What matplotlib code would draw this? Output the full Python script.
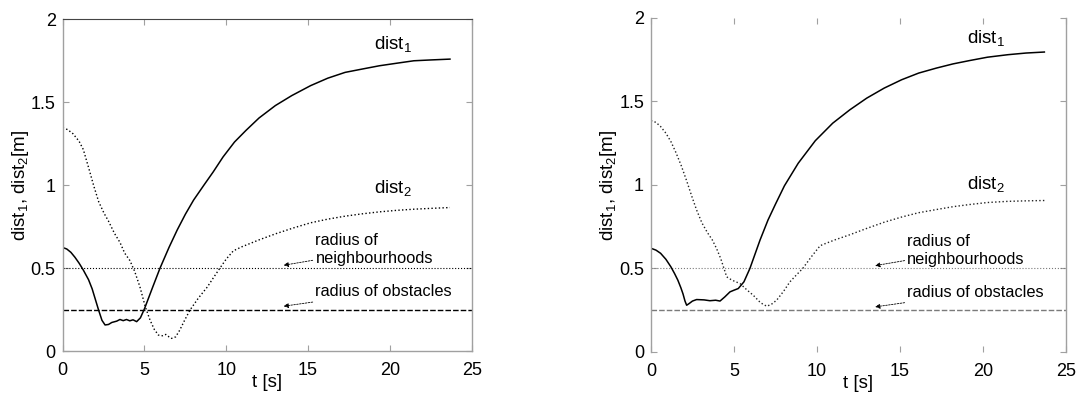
import numpy as np
import matplotlib
matplotlib.use('Agg')
import matplotlib.pyplot as plt

plt.rcParams['font.family'] = ['Liberation Sans', 'DejaVu Sans']
plt.rcParams['mathtext.default'] = 'regular'

# left panel
t_l1 = [0, 0.25, 0.5, 0.75, 1.0, 1.25, 1.58, 1.8, 2.0, 2.2,
        2.4, 2.59, 2.8, 3.0, 3.3, 3.5, 3.7, 3.9, 4.1, 4.3,
        4.52, 4.75, 5.0, 5.5, 5.95, 6.5, 7.0, 7.5, 8.0, 8.63,
        9.2, 9.8, 10.5, 11.2, 12.0, 13.0, 14.0, 15.15, 16.2, 17.26,
        18.3, 19.36, 20.4, 21.46, 22.5, 23.67]
d_l1 = [0.624, 0.615, 0.595, 0.565, 0.53, 0.49, 0.43, 0.375, 0.31, 0.245,
        0.185, 0.157, 0.16, 0.172, 0.18, 0.19, 0.183, 0.19, 0.182, 0.188,
        0.177, 0.2, 0.255, 0.385, 0.5, 0.625, 0.73, 0.825, 0.91, 1.0,
        1.08, 1.17, 1.26, 1.33, 1.405, 1.48, 1.54, 1.60, 1.645, 1.68,
        1.70, 1.72, 1.735, 1.75, 1.755, 1.76]
t_l2 = [0, 0.3, 0.63, 1.0, 1.26, 1.6, 1.9, 2.2, 2.53, 2.79,
        3.16, 3.5, 3.79, 4.11, 4.4, 4.72, 5.05, 5.34, 5.6, 5.85,
        6.1, 6.3, 6.5, 6.65, 6.9, 7.15, 7.45, 7.78, 8.3, 8.84,
        9.2, 9.61, 10.0, 10.43, 10.94, 12.0, 13.05, 14.1, 15.15, 16.2,
        17.26, 18.3, 19.36, 20.4, 21.46, 22.5, 23.67]
d_l2 = [1.346, 1.335, 1.31, 1.265, 1.215, 1.1, 0.995, 0.9, 0.83, 0.785,
        0.71, 0.655, 0.59, 0.545, 0.48, 0.387, 0.266, 0.186, 0.13, 0.096,
        0.092, 0.10, 0.085, 0.076, 0.085, 0.125, 0.185, 0.247, 0.32, 0.386,
        0.44, 0.5, 0.555, 0.604, 0.628, 0.67, 0.708, 0.742, 0.773, 0.795,
        0.813, 0.827, 0.839, 0.848, 0.855, 0.86, 0.865]

# right panel
t_r1 = [0, 0.3, 0.58, 0.9, 1.2, 1.42, 1.62, 1.8, 1.93, 2.05,
        2.15, 2.3, 2.5, 2.75, 3.2, 3.55, 3.9, 4.16, 4.45, 4.76,
        5.0, 5.26, 5.6, 5.96, 6.57, 7.05, 7.5, 8.04, 8.87, 9.9,
        10.95, 11.98, 13.0, 14.05, 15.1, 16.13, 17.2, 18.2, 19.2, 20.27,
        21.5, 22.6, 23.7]
d_r1 = [0.621, 0.61, 0.591, 0.555, 0.51, 0.47, 0.43, 0.385, 0.348, 0.305,
        0.28, 0.29, 0.305, 0.314, 0.312, 0.307, 0.31, 0.305, 0.33, 0.36,
        0.37, 0.38, 0.42, 0.5, 0.67, 0.79, 0.885, 0.995, 1.13, 1.265,
        1.37, 1.45, 1.52, 1.58, 1.63, 1.67, 1.70, 1.725, 1.745, 1.765,
        1.78, 1.79, 1.796]
t_r2 = [0, 0.3, 0.58, 0.9, 1.2, 1.5, 1.82, 2.15, 2.45, 2.75,
        3.07, 3.4, 3.69, 3.95, 4.2, 4.4, 4.56, 4.8, 5.0, 5.36,
        5.8, 6.16, 6.6, 6.97, 7.25, 7.57, 8.0, 8.37, 8.75, 9.14,
        9.7, 10.18, 10.32, 11.1, 11.98, 13.0, 14.05, 15.1, 16.13, 17.2,
        18.2, 19.2, 20.27, 21.5, 22.6, 23.7]
d_r2 = [1.385, 1.375, 1.35, 1.31, 1.26, 1.195, 1.117, 1.025, 0.935, 0.85,
        0.773, 0.715, 0.672, 0.62, 0.56, 0.5, 0.45, 0.435, 0.425, 0.41,
        0.37, 0.34, 0.295, 0.274, 0.285, 0.31, 0.365, 0.42, 0.46, 0.5,
        0.575, 0.635, 0.642, 0.672, 0.702, 0.74, 0.777, 0.808, 0.834, 0.853,
        0.87, 0.883, 0.895, 0.902, 0.905, 0.907]

r_neigh = 0.5
r_obst = 0.25
xticks = [0, 5, 10, 15, 20, 25]
yticks = [0, 0.5, 1, 1.5, 2]
ytick_labels = ['0', '0.5', '1', '1.5', '2']

fig = plt.figure(figsize=(10.79, 3.99), dpi=100)
ax1 = fig.add_axes([0.0581, 0.1203, 0.3791, 0.8313])
ax2 = fig.add_axes([0.6033, 0.1178, 0.3846, 0.8372])

spine_gray = '#a0a0a0'


def setup(ax, lines_color):
    ax.set_xlim(0, 25)
    ax.set_ylim(0, 2)
    ax.set_xticks(xticks)
    ax.set_xticklabels([str(v) for v in xticks])
    ax.set_yticks(yticks)
    ax.set_yticklabels(ytick_labels)
    ax.tick_params(direction='in', length=4, width=0.8, color=spine_gray,
                   top=True, right=True, labelsize=13)
    ax.tick_params(axis='x', pad=8)
    ax.tick_params(axis='y', pad=5)
    ax.set_xlabel('t [s]', fontsize=13.5, labelpad=-4)
    ax.set_ylabel('dist$_1$, dist$_2$[m]', fontsize=13.5, labelpad=0)
    ax.axhline(r_neigh, color=lines_color, lw=0.8, ls=':')
    ax.axhline(r_obst, color=lines_color, lw=1.0, ls='--', dashes=(4, 1.5))
    arrow = dict(arrowstyle='-|>', color='k', lw=0.6, ls=(0, (2, 1.5)),
                 mutation_scale=7, shrinkA=0, shrinkB=0)
    ax.annotate('radius of\nneighbourhoods', xy=(13.5, 0.517), xytext=(15.45, 0.61),
                fontsize=11.8, ha='left', va='center', linespacing=1.25,
                arrowprops=arrow)
    ax.annotate('radius of obstacles', xy=(13.5, 0.27), xytext=(15.45, 0.356),
                fontsize=11.8, ha='left', va='center', arrowprops=arrow)
    for s in ax.spines.values():
        s.set_color(spine_gray)
        s.set_linewidth(1.0)


setup(ax1, 'k')
ax1.spines['top'].set_color('#444444')
ax1.spines['top'].set_linewidth(0.8)
ax1.plot(t_l1, d_l1, color='k', lw=1.1)
ax1.plot(t_l2, d_l2, color='k', lw=1.0, ls=':')
ax1.text(19.05, 1.85, 'dist$_1$', fontsize=13.5, va='center')
ax1.text(19.05, 0.98, 'dist$_2$', fontsize=13.5, va='center')

setup(ax2, '#7a7a7a')
ax2.spines['top'].set_visible(False)
ax2.spines['bottom'].set_visible(False)
ax2.plot(t_r1, d_r1, color='k', lw=1.1)
ax2.plot(t_r2, d_r2, color='#222222', lw=1.0, ls=':')
ax2.text(19.05, 1.877, 'dist$_1$', fontsize=13.5, va='center')
ax2.text(19.05, 1.006, 'dist$_2$', fontsize=13.5, va='center')

fig.savefig('out.png', dpi=100)
